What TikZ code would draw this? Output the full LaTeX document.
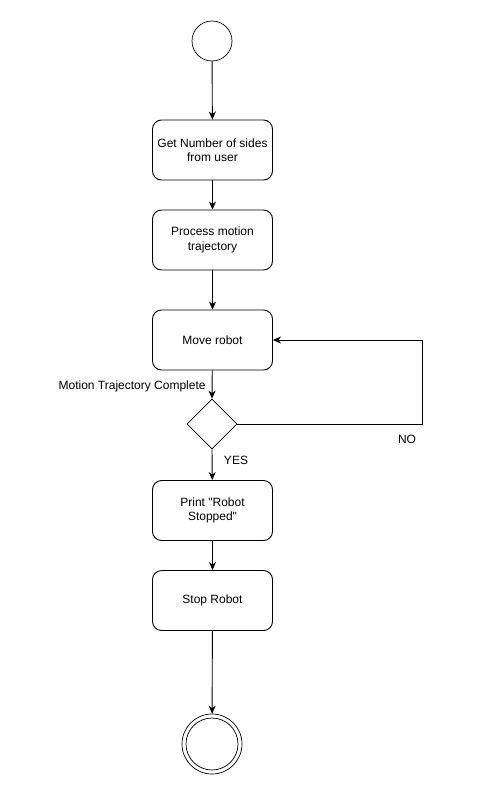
\documentclass[tikz,border=0pt]{standalone}
\usepackage{fontspec}
\setmainfont{Liberation Sans}[Ligatures=TeXOff]
\usetikzlibrary{shapes.geometric,arrows.meta}
\begin{document}
\begin{tikzpicture}[x=1pt,y=-1pt,line width=0.9pt,
  act/.style={draw,rounded corners=9pt,minimum width=120pt,minimum height=60pt,align=center,font=\fontsize{12}{14.5}\selectfont,inner sep=0pt},
  dec/.style={draw,diamond,minimum width=50pt,minimum height=50pt,inner sep=0pt,line width=0.7pt},
  arr/.style={-{Stealth[length=8pt,width=7pt,inset=2.5pt]}},
  lbl/.style={font=\fontsize{12}{14.5}\selectfont,inner sep=0pt}]
\useasboundingbox (0,0) rectangle (482,795);
\node[draw,circle,minimum size=40pt,inner sep=0pt,line width=0.7pt] (start) at (212,41) {};
\node[act] (b1) at (212.5,150) {Get Number of sides\\from user};
\node[act] (b2) at (212.5,240) {Process motion\\trajectory};
\node[act] (b3) at (212.5,340) {Move robot};
\node[dec] (d) at (212,424) {};
\node[act] (b4) at (212.5,510.5) {Print "Robot\\Stopped"};
\node[act] (b5) at (212.5,600.5) {Stop Robot};
\node[draw,circle,minimum size=60pt,inner sep=0pt,line width=0.7pt] (end) at (212,744) {};
\node[draw,circle,minimum size=52pt,inner sep=0pt,line width=0.7pt] (endin) at (212,744) {};
\coordinate (nr) at (422,424);
\coordinate (nt) at (422,340);
\draw[arr] (start) -- (b1);
\draw[arr] (b1) -- (b2);
\draw[arr] (b2) -- (b3);
\draw[arr] (b3) -- (d.north);
\draw[arr] (d.south) -- (b4);
\draw[arr] (b4) -- (b5);
\draw[arr] (b5) -- (end);
\draw[arr] (d.east) -- (nr) -- (nt) -- (b3.east);
\node[lbl,anchor=east] (l1) at (206,386) {Motion Trajectory Complete};
\node[lbl] (l2) at (407,439) {NO};
\node[lbl] (l3) at (236,460) {YES};
\end{tikzpicture}
\end{document}
